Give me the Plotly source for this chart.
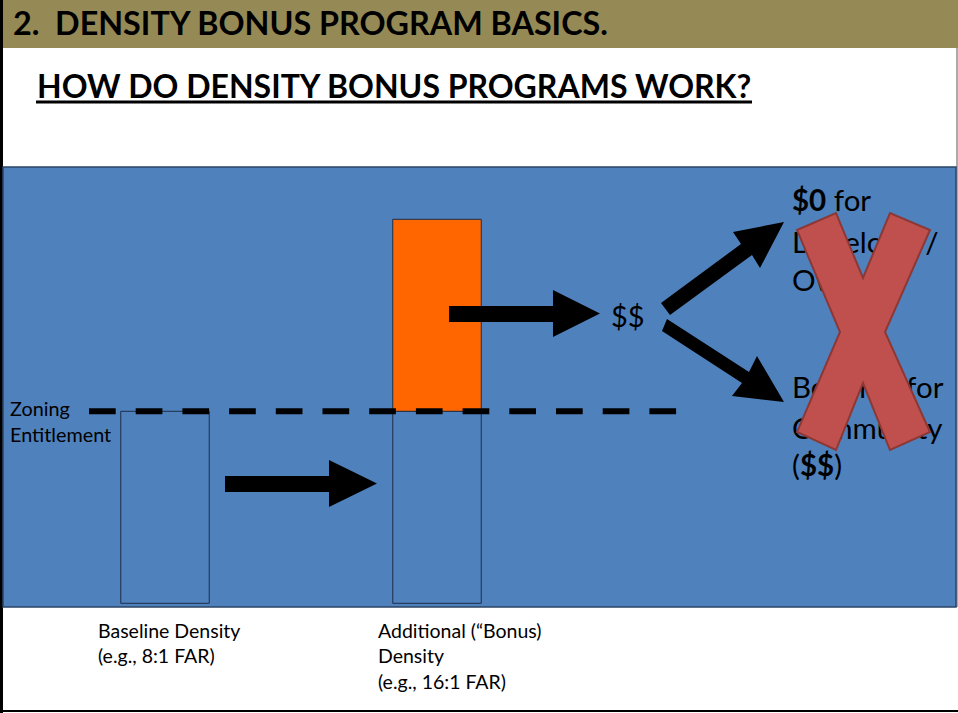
import plotly.graph_objects as go

W, H = 958, 713

# ---------------- data ----------------
categories = ["Baseline Density", "Additional (\u201cBonus) Density"]
bar_pos = [0, 1]
base_far = [8, 8]        # FAR up to the zoning entitlement
bonus_far = [0, 8]       # extra FAR granted by the density bonus
zoning_far = 8
bar_label_lines = [["Baseline Density", "(e.g., 8:1 FAR)"],
                   ["Additional (\u201cBonus)", "Density", "(e.g., 16:1 FAR)"]]
outcome_dev = ["<b>$0</b> for", "Developer/", "Owner"]
outcome_com = ["Benefits for", "Community", "(<b>$$</b>)"]

TITLE = "2.\u00a0 DENSITY BONUS PROGRAM BASICS."
SUBTITLE = "HOW DO DENSITY BONUS PROGRAMS WORK?"

# ---------------- geometry helpers ----------------
FONT = "Lato"
BLUE = "#4F81BD"
ORANGE = "#FF6600"
OLIVE = "#958A55"
PL, PR, PT, PB = 3, 956, 167, 607       # blue panel in pixels
X0PX, XUNIT = 165, 272                   # pixel of x=0 and px per unit
Y0PX, YUNIT = 603.3, 24                  # pixel of y=0 and px per unit
x_range = [(PL - X0PX) / XUNIT, (PR - X0PX) / XUNIT]
y_range = [(Y0PX - PB) / YUNIT, (Y0PX - PT) / YUNIT]
bar_width = 88.5 / XUNIT


def dx(px):
    return (px - X0PX) / XUNIT


def dy(py):
    return (Y0PX - py) / YUNIT


def px_(x):
    return x / W


def py_(y):
    return 1 - y / H


def poly(points):
    s = ""
    for i, (x, y) in enumerate(points):
        s += ("M" if i == 0 else "L") + f"{px_(x):.5f},{py_(y):.5f} "
    return s + "Z"


fig = go.Figure()

# bars
fig.add_trace(go.Bar(x=bar_pos, y=base_far, width=bar_width,
                     marker=dict(color="rgba(0,0,0,0)",
                                 line=dict(color="#1C2F4A", width=1)),
                     hoverinfo="skip", showlegend=False))
bx = [p for p, v in zip(bar_pos, bonus_far) if v > 0]
by = [v for v in bonus_far if v > 0]
bb = [b for b, v in zip(base_far, bonus_far) if v > 0]
fig.add_trace(go.Bar(x=bx, y=by, base=bb, width=bar_width,
                     marker=dict(color=ORANGE, line=dict(color="#1C2F4A", width=1)),
                     hoverinfo="skip", showlegend=False))

# outcome texts (drawn as traces so the red X can cover them)
dev_y = [204, 246, 284]
com_y = [391, 432, 469]
fig.add_trace(go.Scatter(x=[dx(792)] * 3, y=[dy(v) for v in dev_y], mode="text",
                         text=outcome_dev, textposition="middle right",
                         textfont=dict(family=FONT, size=29.5, color="black"),
                         hoverinfo="skip", showlegend=False, cliponaxis=False))
fig.add_trace(go.Scatter(x=[dx(792)] * 3, y=[dy(v) for v in com_y], mode="text",
                         text=outcome_com, textposition="middle right",
                         textfont=dict(family=FONT, size=29.5, color="black"),
                         hoverinfo="skip", showlegend=False, cliponaxis=False))

shapes = []
# title bar
shapes.append(dict(type="rect", xref="paper", yref="paper", x0=0, x1=1,
                   y0=py_(48), y1=1, fillcolor=OLIVE, line=dict(width=0), layer="below"))
# slide borders
shapes.append(dict(type="line", xref="paper", yref="paper", x0=px_(1.5), x1=px_(1.5),
                   y0=0, y1=1, line=dict(color="black", width=3)))
shapes.append(dict(type="line", xref="paper", yref="paper", x0=0, x1=1,
                   y0=py_(711), y1=py_(711), line=dict(color="black", width=2)))
shapes.append(dict(type="line", xref="paper", yref="paper", x0=px_(957), x1=px_(957),
                   y0=py_(48), y1=py_(607), line=dict(color="#555555", width=1)))
# panel border
shapes.append(dict(type="rect", xref="paper", yref="paper", x0=px_(PL), x1=px_(PR),
                   y0=py_(PB), y1=py_(PT), line=dict(color="#2B4464", width=1.5)))
# subtitle underline
shapes.append(dict(type="line", xref="paper", yref="paper", x0=px_(36), x1=px_(752),
                   y0=py_(102), y1=py_(102), line=dict(color="black", width=3)))
# zoning entitlement dashed line
shapes.append(dict(type="line", xref="paper", yref="y", x0=px_(89), x1=px_(677),
                   y0=zoning_far, y1=zoning_far,
                   line=dict(color="black", width=6, dash="26.7px,20px")))
# arrows
arrows = [
    [(225, 476), (329, 476), (329, 460), (377, 483.5), (329, 507), (329, 492), (225, 492)],
    [(449, 306), (553, 306), (553, 290), (600, 313.5), (553, 337), (553, 322), (449, 322)],
    [(661, 303), (741, 244), (733, 232), (784, 222), (760, 268), (752, 255), (670, 315)],
    [(667, 319), (749, 372), (757, 356), (784, 402), (732, 396), (742, 383), (662, 331)],
]
for a in arrows:
    shapes.append(dict(type="path", xref="paper", yref="paper", path=poly(a),
                       fillcolor="black", line=dict(width=0)))
# red X
xpts = [(797, 230), (836, 213), (863, 278), (890, 213), (930, 230), (885, 332),
        (930, 432), (890, 450), (863, 383), (836, 450), (797, 432), (840, 332)]
shapes.append(dict(type="path", xref="paper", yref="paper", path=poly(xpts),
                   fillcolor="#C0504D", line=dict(color="#8C3836", width=2)))

annotations = [
    dict(x=px_(11), y=py_(23), text=f"<b>{TITLE}</b>",
         font=dict(family=FONT, size=32.3, color="black")),
    dict(x=px_(35), y=py_(86), text=f"<b>{SUBTITLE}</b>",
         font=dict(family=FONT, size=32, color="black")),
    dict(x=px_(8), y=py_(421), text="Zoning<br>Entitlement",
         font=dict(family=FONT, size=19.8, color="black")),
    dict(x=px_(609), y=py_(315), text="$$",
         font=dict(family=FONT, size=29, color="black")),
    dict(x=px_(96), y=py_(643), text="<br>".join(bar_label_lines[0]),
         font=dict(family=FONT, size=19.5, color="black")),
    dict(x=px_(376), y=py_(656), text="<br>".join(bar_label_lines[1]),
         font=dict(family=FONT, size=19.5, color="black")),
]
for a in annotations:
    a.update(xref="paper", yref="paper", xanchor="left", yanchor="middle",
             showarrow=False, align="left")

fig.update_layout(
    width=W, height=H, margin=dict(l=0, r=0, t=0, b=0),
    paper_bgcolor="white", plot_bgcolor=BLUE,
    barmode="overlay", showlegend=False,
    xaxis=dict(domain=[px_(PL), px_(PR)], range=x_range, visible=False, fixedrange=True),
    yaxis=dict(domain=[py_(PB), py_(PT)], range=y_range, visible=False, fixedrange=True),
    shapes=shapes, annotations=annotations,
)

fig.write_html("out.html", config={"displayModeBar": False},
               post_script="document.body.style.margin='0';document.body.style.overflow='hidden';")
